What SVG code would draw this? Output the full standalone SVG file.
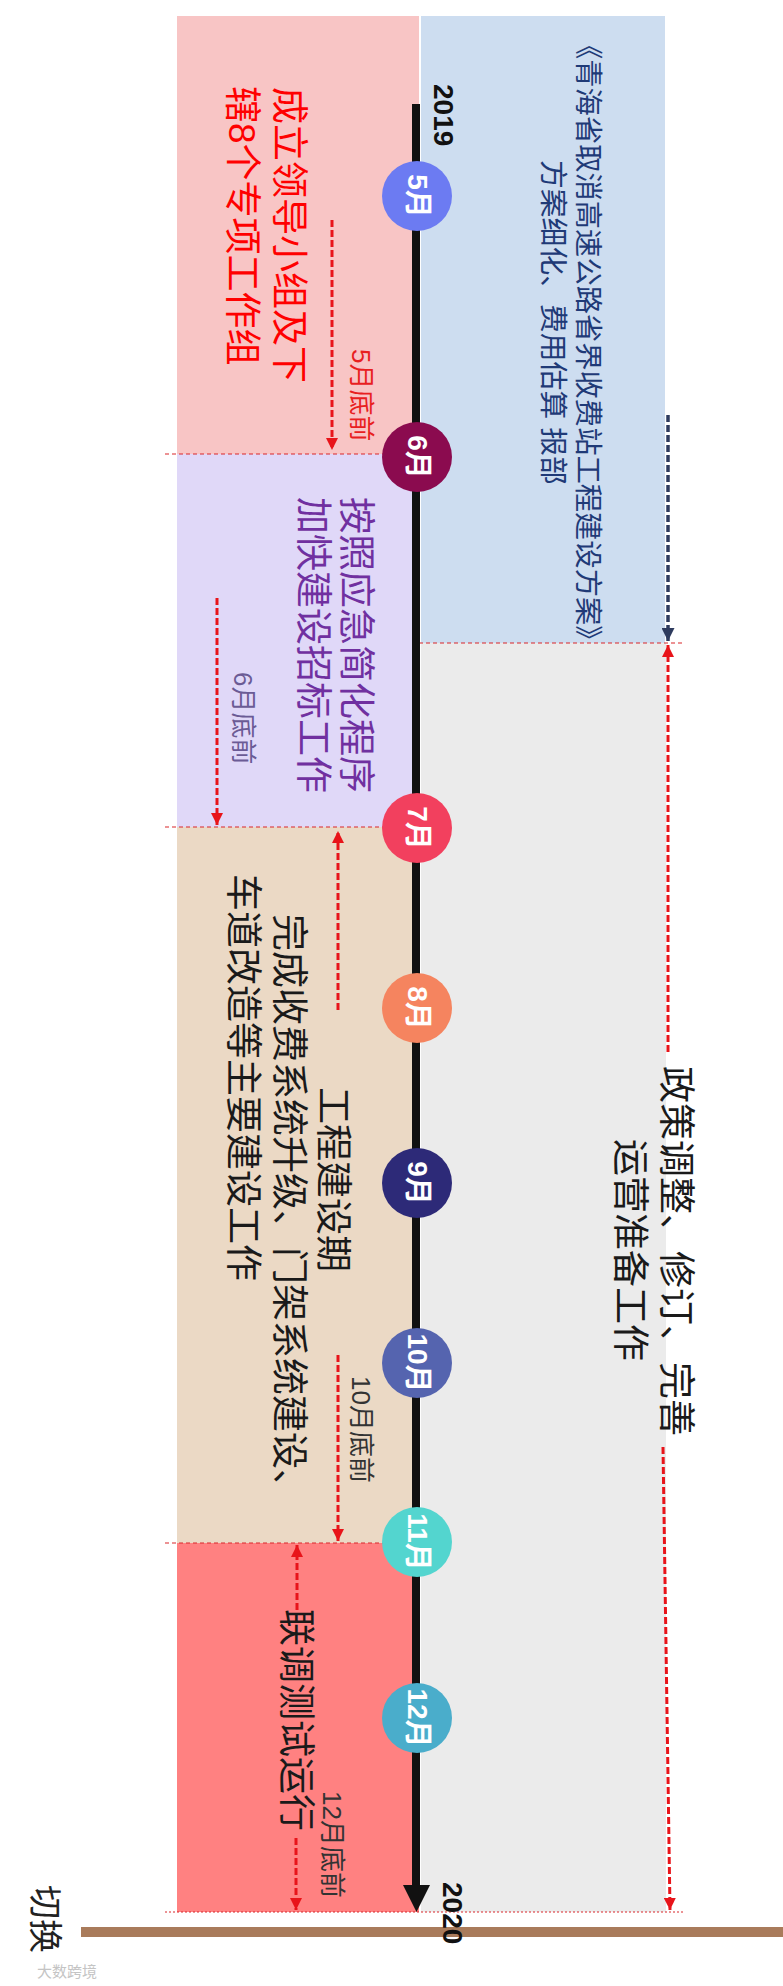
<svg xmlns="http://www.w3.org/2000/svg" width="783" height="1986" viewBox="0 0 783 1986">
<defs>
<style>
text{font-family:"Liberation Sans","Noto Sans CJK SC",sans-serif;dominant-baseline:central}
.big{font-size:37px}
.blue{font-size:28.8px;fill:#1F3A77}
.small{font-size:26px}
.mon{font-size:28px;font-weight:bold;fill:#fff;text-anchor:middle}
.year{font-size:28px;font-weight:bold;fill:#111}
.rdash{stroke:#E8141A;stroke-width:3;stroke-dasharray:7 3;fill:none}
.ndash{stroke:#2E3B5E;stroke-width:3.5;stroke-dasharray:7 3;fill:none}
.hdash{stroke:#D9262B;stroke-width:1.2;stroke-dasharray:4 3;fill:none}
</style>
<marker id="ra" viewBox="0 0 10 10" refX="10" refY="5" markerWidth="12" markerHeight="12" markerUnits="userSpaceOnUse" orient="auto"><path d="M0,0 L10,5 L0,10 Z" fill="#E8141A"/></marker>
<marker id="na" viewBox="0 0 10 10" refX="10" refY="5" markerWidth="13" markerHeight="13" markerUnits="userSpaceOnUse" orient="auto"><path d="M0,0 L10,5 L0,10 Z" fill="#2E3B5E"/></marker>
</defs>
<rect width="783" height="1986" fill="#fff"/>

<g id="phase-may">
<rect x="177" y="16" width="242" height="438" fill="#F8C5C5"/>
<text class="big" fill="#FF0000" transform="translate(288,87) rotate(90)">成立领导小组及下</text>
<text class="big" fill="#FF0000" transform="translate(241,86) rotate(90)">辖8个专项工作组</text>
<text class="small" fill="#E8201F" transform="translate(361,349) rotate(90)">5月底前</text>
</g>

<g id="plan">
<rect x="421" y="16" width="244" height="627" fill="#CDDDF0"/>
<text class="blue" style="font-size:28.3px" transform="translate(588,31) rotate(90)">《青海省取消高速公路省界收费站工程建设方案》</text>
<text class="blue" transform="translate(553,160) rotate(90)">方案细化、费用估算  报部</text>
</g>

<g id="phase-june">
<rect x="177" y="454" width="242" height="373" fill="#E0D8F8"/>
<text class="big" fill="#7030A0" transform="translate(355,497) rotate(90)">按照应急简化程序</text>
<text class="big" fill="#7030A0" transform="translate(312,497) rotate(90)">加快建设招标工作</text>
<text class="small" fill="#6B5B95" transform="translate(243,672) rotate(90)">6月底前</text>
</g>

<g id="phase-build">
<rect x="177" y="827" width="242" height="716" fill="#EBD9C5"/>
<text class="big" fill="#1A1A1A" transform="translate(332,1087) rotate(90)">工程建设期</text>
<text class="big" fill="#1A1A1A" transform="translate(288,914) rotate(90)">完成收费系统升级、门架系统建设、</text>
<text class="big" fill="#1A1A1A" transform="translate(242,874) rotate(90)">车道改造等主要建设工作</text>
<text class="small" fill="#333" transform="translate(361,1376) rotate(90)">10月底前</text>
</g>

<g id="phase-test">
<rect x="177" y="1543" width="242" height="369" fill="#FF8181"/>
<text class="big" fill="#1A1A1A" transform="translate(295,1609) rotate(90)">联调测试运行</text>
<text class="small" fill="#333" transform="translate(332,1791) rotate(90)">12月底前</text>
</g>

<g id="policy">
<rect x="421" y="643" width="245" height="1269" fill="#EBEBEB"/>
<text class="big" fill="#1A1A1A" transform="translate(675,1066) rotate(90)">政策调整、修订、完善</text>
<text class="big" fill="#1A1A1A" transform="translate(629,1139) rotate(90)">运营准备工作</text>
</g>

<g id="connectors">
<line class="hdash" x1="165" y1="454" x2="383" y2="454"/>
<line class="hdash" x1="165" y1="827" x2="383" y2="827"/>
<line class="hdash" x1="165" y1="1543" x2="383" y2="1543"/>
<line class="hdash" x1="419" y1="643" x2="685" y2="643"/>
<line x1="165" y1="1912" x2="685" y2="1912" stroke="#D9262B" stroke-width="1.2" stroke-dasharray="2 2"/>
<line class="rdash" x1="332" y1="220" x2="332" y2="450" marker-end="url(#ra)"/>
<line class="rdash" x1="217" y1="598" x2="217" y2="825" marker-end="url(#ra)"/>
<line class="rdash" x1="338" y1="1010" x2="338" y2="831" marker-end="url(#ra)"/>
<line class="rdash" x1="338" y1="1355" x2="338" y2="1541" marker-end="url(#ra)"/>
<line class="rdash" x1="297" y1="1610" x2="297" y2="1545" marker-end="url(#ra)"/>
<line class="rdash" x1="296" y1="1838" x2="296" y2="1910" marker-end="url(#ra)"/>
<line class="ndash" x1="668" y1="415" x2="668" y2="641" marker-end="url(#na)"/>
<line class="rdash" x1="668" y1="1052" x2="668" y2="645" marker-end="url(#ra)"/>
<line class="rdash" x1="663" y1="1447" x2="670" y2="1910" marker-end="url(#ra)"/>
</g>

<g id="switch">
<line x1="81" y1="1932" x2="783" y2="1932" stroke="#A97B5B" stroke-width="10"/>
<text fill="#222" font-size="34" transform="translate(45,1885) rotate(90)">切换</text>
</g>

<g id="timeline">
<line x1="416" y1="104" x2="416" y2="1887" stroke="#111" stroke-width="8"/>
<path d="M403,1885 L430,1885 L416.5,1912 Z" fill="#111"/>
<text class="year" transform="translate(443,84) rotate(90)">2019</text>
<text class="year" transform="translate(452,1882) rotate(90)">2020</text>
</g>

<g id="m5"><circle cx="417" cy="196" r="35" fill="#6C7BF2"/><text class="mon" transform="translate(417,196) rotate(90)">5月</text></g>
<g id="m6"><circle cx="417" cy="457" r="35" fill="#8B0B4F"/><text class="mon" transform="translate(417,457) rotate(90)">6月</text></g>
<g id="m7"><circle cx="417" cy="828" r="35" fill="#F2405E"/><text class="mon" transform="translate(417,828) rotate(90)">7月</text></g>
<g id="m8"><circle cx="417" cy="1008" r="35" fill="#F5845F"/><text class="mon" transform="translate(417,1008) rotate(90)">8月</text></g>
<g id="m9"><circle cx="417" cy="1183" r="35" fill="#2D2A78"/><text class="mon" transform="translate(417,1183) rotate(90)">9月</text></g>
<g id="m10"><circle cx="417" cy="1363" r="35" fill="#5564AF"/><text class="mon" transform="translate(417,1363) rotate(90)">10月</text></g>
<g id="m11"><circle cx="417" cy="1542" r="35" fill="#53D5CF"/><text class="mon" transform="translate(417,1542) rotate(90)">11月</text></g>
<g id="m12"><circle cx="417" cy="1718" r="35" fill="#4AADCB"/><text class="mon" transform="translate(417,1718) rotate(90)">12月</text></g>

<g id="watermark">
<text x="37" y="1971" font-size="15" fill="#C4C4C4">大数跨境</text>
</g>
</svg>
